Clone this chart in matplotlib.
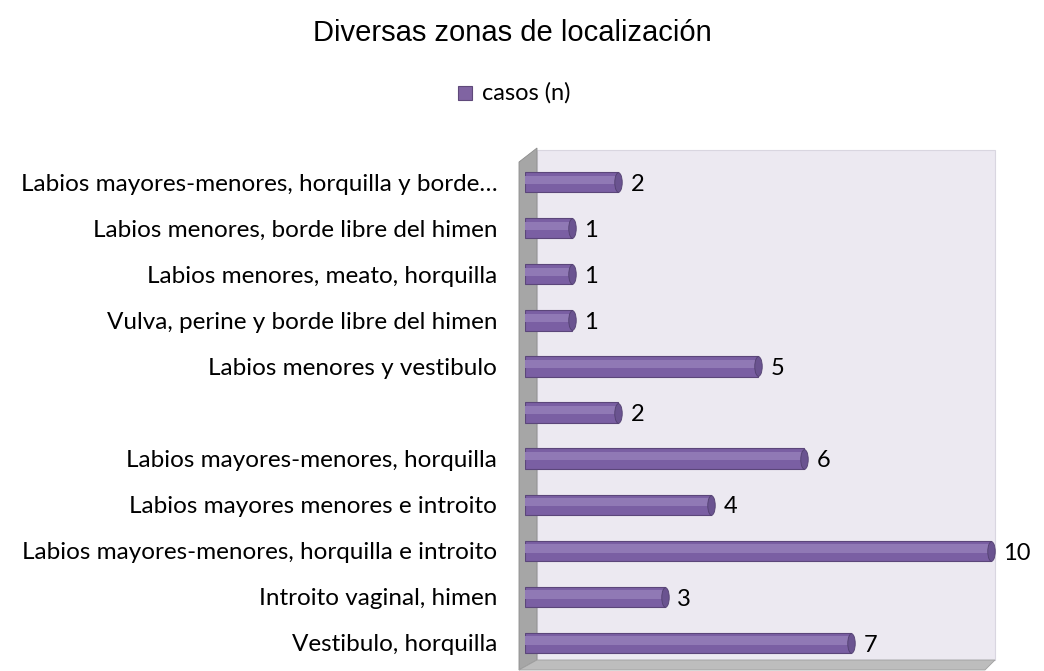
import numpy as np
import matplotlib.pyplot as plt
from matplotlib.patches import Rectangle, Polygon
from matplotlib.path import Path
from matplotlib.transforms import Affine2D

categorias = [
    'Vestibulo, horquilla',
    'Introito vaginal, himen',
    'Labios mayores-menores, horquilla e introito',
    'Labios mayores menores e introito',
    'Labios mayores-menores, horquilla',
    '',
    'Labios menores y vestibulo',
    'Vulva, perine y borde libre del himen',
    'Labios menores, meato, horquilla',
    'Labios menores, borde libre del himen',
    'Labios mayores-menores, horquilla y borde…',
]
casos = [7, 3, 10, 4, 6, 2, 5, 1, 1, 1, 2]

plt.rcParams['font.family'] = ['Lato', 'DejaVu Sans']

fig = plt.figure(figsize=(10.44, 6.71), dpi=100)
W, H = 1044, 671
# ejes: x de 525 a 1000 px, y de 150 a 664 px
ax = fig.add_axes([525 / W, 1 - 664 / H, 475 / W, 514 / H])
ax.set_xlim(0, 10.2)
ax.set_ylim(-0.46, 10.7)
ax.patch.set_alpha(0)

# pared de fondo, pared lateral y piso (efecto 3D)
deco = [
    Rectangle((537 / W, 1 - 660 / H), 458 / W, 510 / H, facecolor='#ECE9F1',
              edgecolor='#D9D6E0', lw=0.8),
    Polygon([(519 / W, 1 - 670 / H), (519 / W, 1 - 162 / H),
             (537 / W, 1 - 148 / H), (537 / W, 1 - 660 / H)],
            closed=True, facecolor='#A6A6A6', edgecolor='#8C8C8C', lw=0.6),
    Polygon([(519 / W, 1 - 670 / H), (537 / W, 1 - 660 / H),
             (995 / W, 1 - 660 / H), (985 / W, 1 - 670 / H)],
            closed=True, facecolor='#BDBDBD', edgecolor='#A0A0A0', lw=0.6),
]
for p in deco:
    p.set_transform(fig.transFigure)
    p.set_clip_on(False)
    p.set_zorder(0)
    ax.add_artist(p)

# tapa eliptica del cilindro
elipse = Path.unit_circle().transformed(Affine2D().scale(0.38, 1.0))

y = np.arange(len(casos))
ax.barh(y, casos, height=0.44, color='#7A5FA3', edgecolor='#5B467A', lw=0.8, zorder=2)
ax.barh(y + 0.05, casos, height=0.18, color='#9079B5', lw=0, zorder=3)
ax.scatter(casos, y, s=200, marker=elipse, color='#6A5390', zorder=4,
           edgecolors='#524070', linewidths=0.6, clip_on=False)

for yi, v in zip(y, casos):
    ax.text(v + 0.27, yi - 0.05, str(v), va='center', ha='left', fontsize=17,
            color='#000000', clip_on=False)

ax.set_yticks(y)
ax.set_yticklabels(categorias, fontsize=17.5)
ax.tick_params(axis='y', length=0, pad=20)
ax.set_xticks([])
for s in ax.spines.values():
    s.set_visible(False)

fig.text(512 / W, 1 - 33 / H, 'Diversas zonas de localización', ha='center',
         va='center', fontsize=21, family=['Liberation Sans', 'DejaVu Sans'])
fig.patches.append(Rectangle((458 / W, 1 - 100 / H), 14 / W, 14 / H,
                             transform=fig.transFigure, facecolor='#8064A2',
                             edgecolor='#5F497A', lw=0.8))
fig.text(482 / W, 1 - 93 / H, 'casos (n)', ha='left', va='center', fontsize=17)

fig.savefig('out.png', dpi=100)
